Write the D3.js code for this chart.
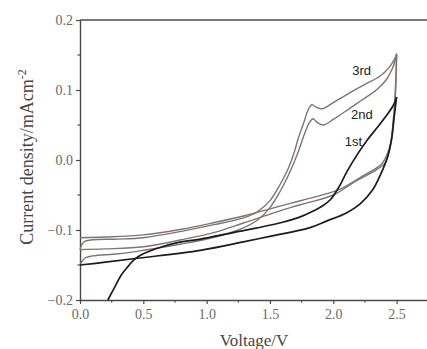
<!DOCTYPE html>
<html>
<head>
<meta charset="utf-8">
<script src="https://d3js.org/d3.v7.min.js"></script>
<style>
  body { margin: 0; background: #fff; }
  svg { display: block; }
</style>
</head>
<body>
<div id="chart"></div>
<script>
// Chart size
var svgWidth = 427;
var svgHeight = 349;

// Tick values
var xTicks = [0.0, 0.5, 1.0, 1.5, 2.0, 2.5];
var xMinor = [0.25, 0.75, 1.25, 1.75, 2.25];
var yTicks = [-0.2, -0.1, 0.0, 0.1, 0.2];
var yMinor = [-0.15, -0.05, 0.05, 0.15];

// Cycle 1 (black) [voltage, current density]
var cycle1Forward = [[0.22, -0.2], [0.27, -0.183], [0.32, -0.166], [0.38, -0.152], [0.43, -0.142],
  [0.5, -0.134], [0.63, -0.125], [0.77, -0.118], [0.95, -0.113], [1.2, -0.104], [1.4, -0.097],
  [1.6, -0.089], [1.73, -0.082], [1.83, -0.074], [1.92, -0.065], [1.98, -0.056], [2.04, -0.04],
  [2.11, -0.016], [2.19, 0.008], [2.27, 0.029], [2.35, 0.047], [2.43, 0.066], [2.48, 0.08], [2.5, 0.09]];
var cycle1Reverse = [[2.5, 0.09], [2.48, 0.06], [2.46, 0.029], [2.43, 0.005], [2.39, -0.014],
  [2.31, -0.043], [2.21, -0.063], [2.1, -0.076], [1.95, -0.087], [1.81, -0.097], [1.5, -0.109],
  [1.29, -0.117], [0.95, -0.129], [0.47, -0.14], [0.2, -0.146], [0.0, -0.15]];

// Cycle 2 (grey)
var cycle2Forward = [[0.0, -0.15], [0.015, -0.145], [0.04, -0.14], [0.1, -0.137], [0.3, -0.134],
  [0.5, -0.129], [0.8, -0.12], [1.07, -0.11], [1.25, -0.1], [1.4, -0.086], [1.5, -0.068],
  [1.58, -0.045], [1.64, -0.024], [1.68, -0.008], [1.73, 0.015], [1.77, 0.036], [1.81, 0.053],
  [1.84, 0.059], [1.87, 0.054], [1.92, 0.05], [2.0, 0.058], [2.1, 0.07], [2.22, 0.085],
  [2.34, 0.1], [2.42, 0.115], [2.47, 0.132], [2.5, 0.15]];
var cycle2Reverse = [[2.5, 0.15], [2.49, 0.1], [2.475, 0.06], [2.45, 0.02], [2.41, -0.004],
  [2.34, -0.014], [2.18, -0.03], [2.0, -0.05], [1.8, -0.061], [1.66, -0.068], [1.29, -0.09],
  [1.07, -0.103], [0.8, -0.114], [0.5, -0.124], [0.2, -0.127], [0.0, -0.128]];

// Cycle 3 (grey)
var cycle3Forward = [[0.0, -0.128], [0.015, -0.121], [0.04, -0.116], [0.1, -0.114], [0.3, -0.113],
  [0.5, -0.111], [0.8, -0.102], [1.07, -0.092], [1.2, -0.087], [1.3, -0.082], [1.4, -0.074],
  [1.5, -0.058], [1.58, -0.035], [1.64, -0.014], [1.69, 0.01], [1.72, 0.029], [1.77, 0.055],
  [1.8, 0.071], [1.83, 0.079], [1.86, 0.076], [1.91, 0.073], [2.0, 0.082], [2.13, 0.096],
  [2.25, 0.108], [2.37, 0.12], [2.44, 0.132], [2.48, 0.143], [2.5, 0.152]];
var cycle3Reverse = [[2.5, 0.152], [2.495, 0.11], [2.485, 0.075], [2.47, 0.045], [2.455, 0.025],
  [2.42, 0.006], [2.38, -0.006], [2.24, -0.022], [2.05, -0.042], [1.85, -0.053], [1.66, -0.062],
  [1.29, -0.08], [1.07, -0.089], [0.8, -0.099], [0.5, -0.107], [0.2, -0.11], [0.0, -0.111]];

// Curve labels
var curveLabels = [
  { text: "3rd", v: 2.15, j: 0.122 },
  { text: "2nd", v: 2.14, j: 0.058 },
  { text: "1st", v: 2.09, j: 0.02 }
];

var svg = d3.select("#chart")
  .append("svg")
  .attr("width", svgWidth)
  .attr("height", svgHeight);

// Scales
var xScale = d3.scaleLinear().domain([0, 2.74]).range([80, 427]);
var yScale = d3.scaleLinear().domain([-0.2, 0.2]).range([300, 20]);

var axisColor = "#4d4848";
var labelColor = "#6e6868";
var serif = "'Liberation Serif', 'DejaVu Serif', serif";

// Bottom axis
var xAxis = svg.append("g")
  .attr("transform", "translate(0,300)")
  .call(d3.axisBottom(xScale).tickValues(xTicks).tickFormat(d3.format(".1f")).tickSize(4).tickSizeOuter(0));
xAxis.append("g").selectAll("line")
  .data(xMinor)
  .enter().append("line")
  .attr("x1", d => xScale(d)).attr("x2", d => xScale(d))
  .attr("y1", 0).attr("y2", 2.5);

// Left axis
var yAxis = svg.append("g")
  .attr("transform", "translate(80,0)")
  .call(d3.axisLeft(yScale).tickValues(yTicks).tickFormat(d3.format(".1f")).tickSize(4).tickSizeOuter(0));
yAxis.append("g").selectAll("line")
  .data(yMinor)
  .enter().append("line")
  .attr("x1", 0).attr("x2", -2.5)
  .attr("y1", d => yScale(d)).attr("y2", d => yScale(d));

// Top frame line
svg.append("line")
  .attr("x1", 80).attr("x2", 427)
  .attr("y1", 20).attr("y2", 20)
  .attr("stroke", axisColor).attr("stroke-width", 1.4);

[xAxis, yAxis].forEach(function (g) {
  g.attr("font-family", serif).attr("font-size", 14);
  g.select(".domain").attr("stroke", axisColor).attr("stroke-width", 1.4);
  g.selectAll("line").attr("stroke", axisColor).attr("stroke-width", 1.2);
  g.selectAll(".tick text")
    .attr("fill", labelColor)
    .attr("font-family", serif)
    .attr("font-size", 14);
});
xAxis.selectAll(".tick text").attr("dy", "0.9em").attr("y", 6);
yAxis.selectAll(".tick text").attr("x", -7);

// Curves
var line = d3.line()
  .x(d => xScale(d[0]))
  .y(d => yScale(d[1]))
  .curve(d3.curveCatmullRom.alpha(0.5));

var greyCurves = [cycle2Forward, cycle2Reverse, cycle3Forward, cycle3Reverse];
svg.append("g").selectAll("path")
  .data(greyCurves)
  .enter().append("path")
  .attr("d", line)
  .attr("fill", "none")
  .attr("stroke", "#7f7474")
  .attr("stroke-width", 1.4);

svg.append("g").selectAll("path")
  .data([cycle1Forward, cycle1Reverse])
  .enter().append("path")
  .attr("d", line)
  .attr("fill", "none")
  .attr("stroke", "#1c1c1c")
  .attr("stroke-width", 1.7);

// Curve labels
svg.append("g").selectAll("text")
  .data(curveLabels)
  .enter().append("text")
  .attr("x", d => xScale(d.v))
  .attr("y", d => yScale(d.j))
  .attr("fill", "#222")
  .style("font-family", "'Liberation Sans', Arial, sans-serif")
  .style("font-size", "13px")
  .text(d => d.text);

// Axis titles
svg.append("text")
  .attr("x", 254)
  .attr("y", 346)
  .attr("text-anchor", "middle")
  .attr("fill", "#4a4545")
  .style("font-family", serif)
  .style("font-size", "17px")
  .text("Voltage/V");

var yTitle = svg.append("text")
  .attr("transform", "translate(33,157)rotate(-90)")
  .attr("text-anchor", "middle")
  .attr("fill", "#4a4545")
  .style("font-family", serif)
  .style("font-size", "18px");
yTitle.append("tspan").text("Current density/mAcm");
yTitle.append("tspan").attr("dy", "-0.6em").style("font-size", "12px").text("-2");
</script>
</body>
</html>
